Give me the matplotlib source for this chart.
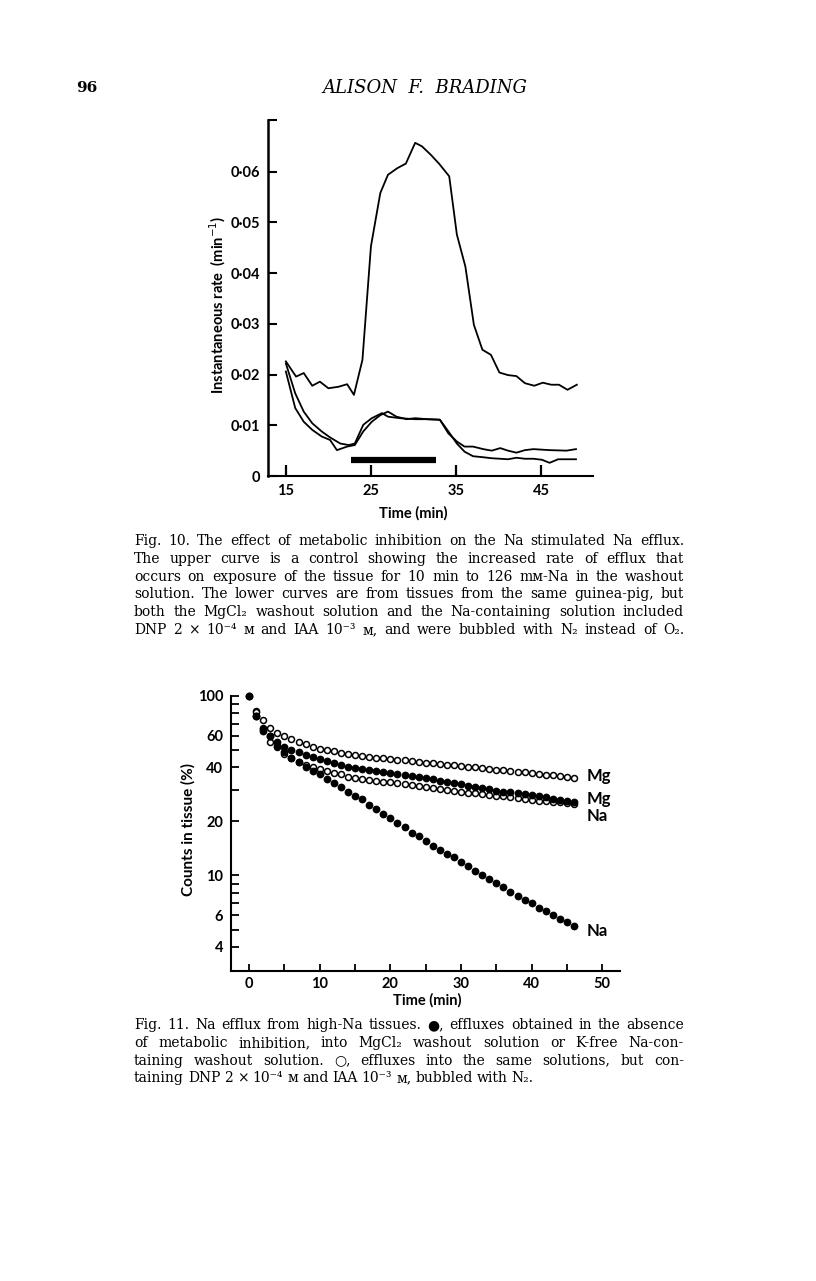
import matplotlib
matplotlib.use("Agg")
import matplotlib.pyplot as plt
from matplotlib.transforms import IdentityTransform

W, H = 816, 1281

# ---- Fig. 10: instantaneous rate (min^-1) vs time (min)
t_ctrl = [15, 16.2, 17.1, 18.1, 19.0, 20.0, 21.2, 22.2, 23.0, 24.0, 25.0, 26.1, 27.0, 28.1, 29.1,
          30.2, 31.0, 32.0, 33.0, 34.2, 35.1, 36.1, 37.1, 38.1, 39.1, 40.1, 41.1, 42.1, 43.1, 44.2,
          45.2, 46.2, 47.1, 48.1, 49.2]
r_ctrl = [0.0226, 0.0196, 0.0203, 0.0178, 0.0186, 0.0173, 0.0176, 0.0181, 0.0160, 0.0229, 0.0453,
          0.0558, 0.0594, 0.0607, 0.0616, 0.0657, 0.0650, 0.0634, 0.0616, 0.0591, 0.0476, 0.0413,
          0.0298, 0.0249, 0.0239, 0.0204, 0.0199, 0.0197, 0.0183, 0.0178, 0.0184, 0.0180, 0.0180,
          0.0170, 0.0180]
t_inhib_a = [15, 16.1, 17.1, 18.1, 19.2, 20.2, 21.4, 22.4, 23.1, 24.1, 25.1, 26.3, 27.0, 28.4, 30.2,
             31.6, 33.1, 34.1, 35.1, 36.0, 37.0, 38.2, 39.2, 40.2, 41.1, 42.1, 43.1, 44.1, 46.0,
             48.0, 49.1]
r_inhib_a = [0.0222, 0.0163, 0.0127, 0.0104, 0.0088, 0.0076, 0.0064, 0.0061, 0.0064, 0.0101, 0.0114,
             0.0124, 0.0117, 0.0114, 0.0112, 0.0112, 0.0111, 0.0084, 0.0068, 0.0058, 0.0058, 0.0053,
             0.0050, 0.0055, 0.0050, 0.0046, 0.0051, 0.0053, 0.0051, 0.0050, 0.0053]
t_inhib_b = [15, 16.1, 17.1, 18.1, 19.2, 20.2, 21.0, 22.2, 23.1, 24.1, 25.1, 26.1, 27.0, 28.0, 29.2,
             30.2, 31.6, 33.1, 34.1, 35.1, 36.0, 37.0, 38.2, 39.2, 40.2, 41.1, 42.1, 43.1, 44.1,
             45.1, 46.0, 47.0, 49.1]
r_inhib_b = [0.0206, 0.0134, 0.0107, 0.0091, 0.0078, 0.0071, 0.0051, 0.0058, 0.0061, 0.0088, 0.0107,
             0.0120, 0.0127, 0.0117, 0.0112, 0.0114, 0.0112, 0.0111, 0.0088, 0.0064, 0.0048, 0.0039,
             0.0037, 0.0035, 0.0034, 0.0033, 0.0036, 0.0034, 0.0034, 0.0032, 0.0026, 0.0033, 0.0033]
na_exposure = [22.7, 32.7]   # 10 min in 126 mM-Na
na_bar_level = 0.0032
rate_ticks = [0, 0.01, 0.02, 0.03, 0.04, 0.05, 0.06]
rate_labels = ["0", "0·01", "0·02", "0·03", "0·04", "0·05", "0·06"]
time_ticks_10 = [15, 25, 35, 45]

# ---- Fig. 11: counts in tissue (%) vs time (min)
t_all = list(range(0, 47))
t_open = list(range(1, 47))
na_filled = [100, 77, 64, 59.5, 52.5, 48.5, 45.0, 42.5, 39.9, 38.2, 36.6, 34.5, 32.5, 31.2, 29.2,
             27.8, 26.5, 24.6, 23.5, 21.9, 20.8, 19.6, 18.7, 17.3, 16.5, 15.6, 14.6, 13.8, 13.1,
             12.6, 11.8, 11.3, 10.6, 10.0, 9.5, 9.1, 8.6, 8.1, 7.7, 7.3, 7.0, 6.6, 6.3, 6.0, 5.7,
             5.5, 5.2]
mg_filled = [100, 77, 65, 59.5, 55, 52, 50, 48.5, 47, 45.8, 44.5, 43.4, 42.4, 41.3, 40.3, 39.4,
             38.9, 38.4, 37.9, 37.4, 37.0, 36.5, 36.1, 35.6, 35.2, 34.8, 34.2, 33.7, 33.2, 32.6,
             32.1, 31.6, 31.1, 30.6, 30.1, 29.6, 29.3, 29.0, 28.6, 28.3, 28.0, 27.6, 27.2, 26.7,
             26.3, 25.9, 25.5]
mg_open = [82.5, 73.5, 66.0, 62.0, 59.6, 57.1, 55.5, 53.6, 52.0, 50.7, 49.8, 49.0, 48.2, 47.3,
           46.5, 46.0, 45.6, 45.2, 44.8, 44.4, 44.0, 43.6, 43.2, 42.8, 42.4, 42.0, 41.7, 41.3,
           41.0, 40.6, 40.2, 39.9, 39.5, 39.2, 38.8, 38.5, 38.1, 37.7, 37.4, 37.0, 36.7, 36.3,
           36.0, 35.7, 35.3, 35.0]
na_open = [81, 66, 55, 51.5, 47.5, 45, 43, 41.3, 40.0, 39.0, 38.1, 37.3, 36.5, 35.5, 34.8, 34.4,
           34.0, 33.6, 33.2, 32.9, 32.5, 32.1, 31.7, 31.3, 31.0, 30.6, 30.2, 29.8, 29.5, 29.2,
           28.9, 28.6, 28.3, 28.0, 27.7, 27.5, 27.2, 26.9, 26.6, 26.3, 26.1, 25.9, 25.7, 25.5,
           25.3, 25.1]
end_labels = ["Mg", "Mg", "Na", "Na"]
end_label_y = [35.7, 26.6, 21.5, 4.9]
count_ticks = [4, 6, 10, 20, 40, 60, 100]
count_minor = [5, 7, 8, 9, 30, 50, 70, 80, 90]
time_ticks_11 = [0, 5, 10, 15, 20, 25, 30, 35, 40, 45, 50]

cap10 = [
    "Fig. 10. The effect of metabolic inhibition on the Na stimulated Na efflux.",
    "The upper curve is a control showing the increased rate of efflux that",
    "occurs on exposure of the tissue for 10 min to 126 mᴍ-Na in the washout",
    "solution. The lower curves are from tissues from the same guinea-pig, but",
    "both the MgCl₂ washout solution and the Na-containing solution included",
    "DNP 2 × 10⁻⁴ ᴍ and IAA 10⁻³ ᴍ, and were bubbled with N₂ instead of O₂.",
]
cap11 = [
    "Fig. 11. Na efflux from high-Na tissues. ●, effluxes obtained in the absence",
    "of metabolic inhibition, into MgCl₂ washout solution or K-free Na-con-",
    "taining washout solution. ○, effluxes into the same solutions, but con-",
    "taining DNP 2 × 10⁻⁴ ᴍ and IAA 10⁻³ ᴍ, bubbled with N₂.",
]

plt.rcParams["font.family"] = ["Lato", "DejaVu Sans"]
fig = plt.figure(figsize=(W / 100, H / 100), dpi=100)
fig.patch.set_facecolor("white")
px = IdentityTransform()

# ---------------- Fig. 10
ax1 = fig.add_axes([268 / W, 1 - 476 / H, (593 - 268) / W, (476 - 120) / H])
for t, r in [(t_ctrl, r_ctrl), (t_inhib_a, r_inhib_a), (t_inhib_b, r_inhib_b)]:
    ax1.plot(t, r, color="black", lw=1.3, solid_joinstyle="round")
ax1.plot(na_exposure, [na_bar_level] * 2, color="black", lw=4.5, solid_capstyle="butt")
ax1.set_xlim(12.9, 51.1)
ax1.set_ylim(0, 0.0702)
for s in ["top", "right"]:
    ax1.spines[s].set_visible(False)
ax1.spines["left"].set_linewidth(1.8)
ax1.spines["bottom"].set_linewidth(1.5)
ax1.set_yticks(rate_ticks + [0.0702])
ax1.set_yticklabels(rate_labels + [""])
ax1.set_xticks(time_ticks_10)
ax1.set_xticklabels([str(v) for v in time_ticks_10])
ax1.tick_params(axis="y", direction="in", length=6.5, width=1.5, pad=6, labelsize=10.5)
ax1.tick_params(axis="x", direction="in", length=8, width=1.6, pad=6, labelsize=10.5)
for lab in ax1.get_xticklabels() + ax1.get_yticklabels():
    lab.set_fontweight("bold")
fig.text(218, H - 305, "Instantaneous rate  (min$^{-1}$)", transform=px, rotation=90,
         ha="center", va="center", fontsize=10.5, fontweight="bold")
fig.text(413, H - 513, "Time (min)", transform=px, ha="center", va="center",
         fontsize=10.5, fontweight="bold")

# ---------------- Fig. 11
ax2 = fig.add_axes([230.7 / W, 1 - 970.7 / H, (620 - 230.7) / W, (970.7 - 695.7) / H])
ax2.set_yscale("log")
ax2.plot(t_open, mg_open, "o", ms=4.3, mfc="white", mec="black", mew=1.1, clip_on=False)
ax2.plot(t_open, na_open, "o", ms=4.3, mfc="white", mec="black", mew=1.1, clip_on=False)
ax2.plot(t_all, mg_filled, "o", ms=5.6, mfc="black", mec="black", mew=0, clip_on=False)
ax2.plot(t_all, na_filled, "o", ms=5.6, mfc="black", mec="black", mew=0, clip_on=False)
for lab, yv in zip(end_labels, end_label_y):
    ax2.text(47.8, yv, lab, ha="left", va="center", fontsize=12, fontweight="bold")
ax2.set_xlim(-2.6, 52.5)
ax2.set_ylim(2.95, 100)
for s in ["top", "right"]:
    ax2.spines[s].set_visible(False)
ax2.spines["left"].set_linewidth(1.5)
ax2.spines["bottom"].set_linewidth(1.5)
ax2.set_yticks(count_ticks)
ax2.set_yticklabels([str(v) for v in count_ticks])
ax2.set_yticks(count_minor, minor=True)
ax2.set_yticklabels([""] * len(count_minor), minor=True)
ax2.set_xticks(time_ticks_11)
ax2.set_xticklabels([str(v) if v % 10 == 0 else "" for v in time_ticks_11])
ax2.tick_params(axis="y", which="both", direction="in", length=5.5, width=1.3, pad=5.5, labelsize=10.5)
ax2.tick_params(axis="x", direction="in", length=5, width=1.3, pad=4.5, labelsize=10.5)
for lab in ax2.get_xticklabels() + ax2.get_yticklabels():
    lab.set_fontweight("bold")
fig.text(188, H - 829, "Counts in tissue (%)", transform=px, rotation=90,
         ha="center", va="center", fontsize=11, fontweight="bold")
fig.text(427, H - 1000, "Time (min)", transform=px, ha="center", va="center",
         fontsize=10.5, fontweight="bold")

# ---------------- page text
serif = ["DejaVu Serif", "DejaVu Sans"]
fig.text(87, H - 88, "96", transform=px, ha="center", va="center", fontsize=11,
         fontweight="bold", family=serif)
fig.text(425, H - 88, "ALISON  F.  BRADING", transform=px, ha="center", va="center",
         fontsize=13, style="italic", family=serif)

renderer = fig.canvas.get_renderer()


def put_lines(lines, first_y, step, left=134, right=684, size=10, justify_last=False):
    for i, line in enumerate(lines):
        words = line.split(" ")
        base = H - (first_y + i * step + 4)
        objs = [fig.text(0, base, w, transform=px, fontsize=size, family=serif, va="baseline")
                for w in words]
        widths = [o.get_window_extent(renderer).width for o in objs]
        last = i == len(lines) - 1 and not justify_last
        if last or len(words) == 1:
            gap = size * 0.4
        else:
            gap = (right - left - sum(widths)) / (len(words) - 1)
        x = left
        for o, wd in zip(objs, widths):
            o.set_x(x)
            x += wd + gap


put_lines(cap10, 541, 17.8, justify_last=True)
put_lines(cap11, 1025, 17.8)

fig.savefig("out.png", dpi=100, facecolor="white")
